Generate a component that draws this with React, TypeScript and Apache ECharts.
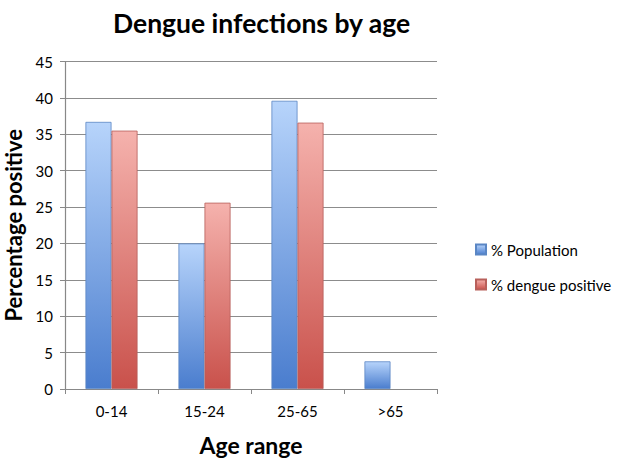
import React, { useEffect, useRef } from "react";
import * as echarts from "echarts";

const categories = ["0-14", "15-24", "25-65", ">65"];
const populationPct = [36.7, 20.0, 39.6, 3.8];
const denguePct = [35.5, 25.6, 36.6, 0];
const yTicks = { min: 0, max: 45, interval: 5 };

const FONT = "Lato, 'Open Sans', sans-serif";

export default function App() {
  const ref = useRef<HTMLDivElement>(null);
  useEffect(() => {
    if (!ref.current) return;
    const chart = echarts.init(ref.current, null, { renderer: "svg" });
    const grad = (top: string, bottom: string) =>
      new echarts.graphic.LinearGradient(0, 0, 0, 1, [
        { offset: 0, color: top },
        { offset: 1, color: bottom },
      ]);
    chart.setOption({
      animation: false,
      backgroundColor: "#ffffff",
      title: {
        text: "Dengue infections by age",
        left: 108,
        top: 4,
        textStyle: { fontFamily: FONT, fontWeight: "bold", fontSize: 26.5, color: "#000" },
      },
      legend: {
        orient: "vertical",
        left: 470,
        top: 237,
        itemGap: 20,
        itemWidth: 10,
        itemHeight: 10,
        icon: "rect",
        textStyle: { fontFamily: FONT, fontSize: 15, color: "#000" },
        data: ["% Population", "% dengue positive"],
      },
      grid: {
        left: 65,
        right: 191,
        top: 61.5,
        bottom: 75,
        containLabel: false,
        outerBoundsMode: "none",
      },
      xAxis: {
        type: "category",
        data: categories,
        axisLine: { lineStyle: { color: "#888", width: 1.2 } },
        axisTick: { show: true, length: 5, lineStyle: { color: "#888" } },
        axisLabel: { fontFamily: FONT, fontSize: 15, color: "#000", margin: 14 },
        name: "Age range",
        nameLocation: "middle",
        nameGap: 44,
        nameTextStyle: { fontFamily: FONT, fontSize: 23, fontWeight: "bold", color: "#000" },
      },
      yAxis: {
        type: "value",
        min: yTicks.min,
        max: yTicks.max,
        interval: yTicks.interval,
        axisLine: { show: true, lineStyle: { color: "#888", width: 1.2 } },
        axisTick: { show: true, length: 5, lineStyle: { color: "#888" } },
        splitLine: { show: true, lineStyle: { color: "#8c8c8c", width: 1.2 } },
        axisLabel: { fontFamily: FONT, fontSize: 15, color: "#000", margin: 12 },
        name: "Percentage positive",
        nameLocation: "middle",
        nameGap: 40,
        nameRotate: 90,
        nameTextStyle: { fontFamily: FONT, fontSize: 22, fontWeight: "bold", color: "#000" },
      },
      series: [
        {
          name: "% Population",
          type: "bar",
          data: populationPct,
          barGap: "0%",
          barCategoryGap: "44%",
          itemStyle: {
            color: grad("#b7d4fb", "#4a7dce"),
            borderColor: "#5a86c4",
            borderWidth: 0.8,
          },
        },
        {
          name: "% dengue positive",
          type: "bar",
          data: denguePct.map((v) => (v === 0 ? "-" : v)),
          itemStyle: {
            color: grad("#f5b2ad", "#c9514b"),
            borderColor: "#b8605b",
            borderWidth: 0.8,
          },
        },
      ],
    });
    return () => chart.dispose();
  }, []);
  return (
    <div
      ref={ref}
      style={{ position: "fixed", left: 0, top: 0, width: 628, height: 464 }}
    />
  );
}
